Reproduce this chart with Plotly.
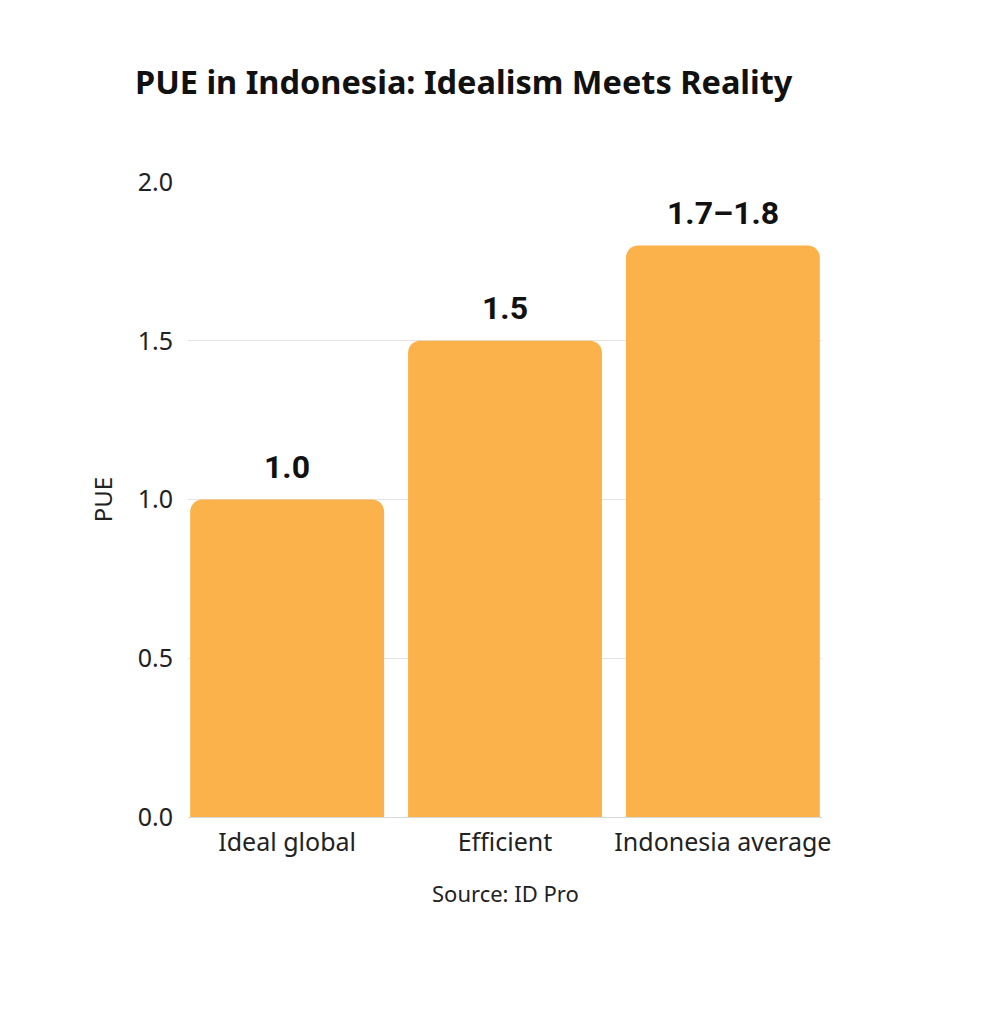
import plotly.graph_objects as go

categories = ["Ideal global", "Efficient", "Indonesia average"]
pue_values = [1.0, 1.5, 1.8]
value_labels = ["1.0", "1.5", "1.7–1.8"]
y_ticks = [0.0, 0.5, 1.0, 1.5, 2.0]
y_tick_text = ["0.0", "0.5", "1.0", "1.5", "2.0"]

bar_color = "#FBB24A"
font_main = "Noto Sans"
font_bold = "Roboto"

fig = go.Figure()
fig.add_trace(go.Bar(
    x=categories,
    y=pue_values,
    marker=dict(color=bar_color, cornerradius=12, line=dict(width=0)),
    width=0.89,
    hoverinfo="skip",
))

# value labels above bars
for cat, val, lab in zip(categories, pue_values, value_labels):
    fig.add_annotation(
        x=cat, y=val, text="<b>" + lab + "</b>",
        showarrow=False, yanchor="bottom", yshift=12,
        font=dict(family=font_bold, size=32, color="#111111"),
    )

fig.add_annotation(
    text="Source: ID Pro", xref="paper", yref="paper",
    x=0.5, y=-0.12, xanchor="center", yanchor="middle",
    showarrow=False, font=dict(family=font_main, size=22, color="#222222"),
)

# page is drawn with an 8px offset, margins corrected for that
fig.update_layout(
    width=985, height=1024,
    paper_bgcolor="white", plot_bgcolor="white",
    margin=dict(l=180, r=171, t=174, b=215),
    showlegend=False,
    title=dict(
        text="<b>PUE in Indonesia: Idealism Meets Reality</b>",
        x=127 / 985, xref="container", xanchor="left",
        y=1 - 75 / 1024, yref="container", yanchor="middle",
        font=dict(family=font_main, size=32.5, color="#111111"),
    ),
    font=dict(family=font_main, color="#222222"),
)

fig.update_xaxes(
    range=[-0.455, 2.455],
    tickfont=dict(family=font_main, size=25, color="#222222"),
    showgrid=False, showline=False, ticks="", ticklabelstandoff=8,
)
fig.update_yaxes(
    range=[0, 2.0],
    tickvals=y_ticks, ticktext=y_tick_text,
    tickfont=dict(family=font_main, size=25, color="#222222"),
    showgrid=True, gridcolor="#e3e3e3", gridwidth=1,
    zeroline=True, zerolinecolor="#d8d8d8", zerolinewidth=1,
    ticks="", ticklabelstandoff=14,
    title=dict(text="PUE", font=dict(family=font_main, size=24, color="#222222"), standoff=18),
)

fig.write_html("out.html")
